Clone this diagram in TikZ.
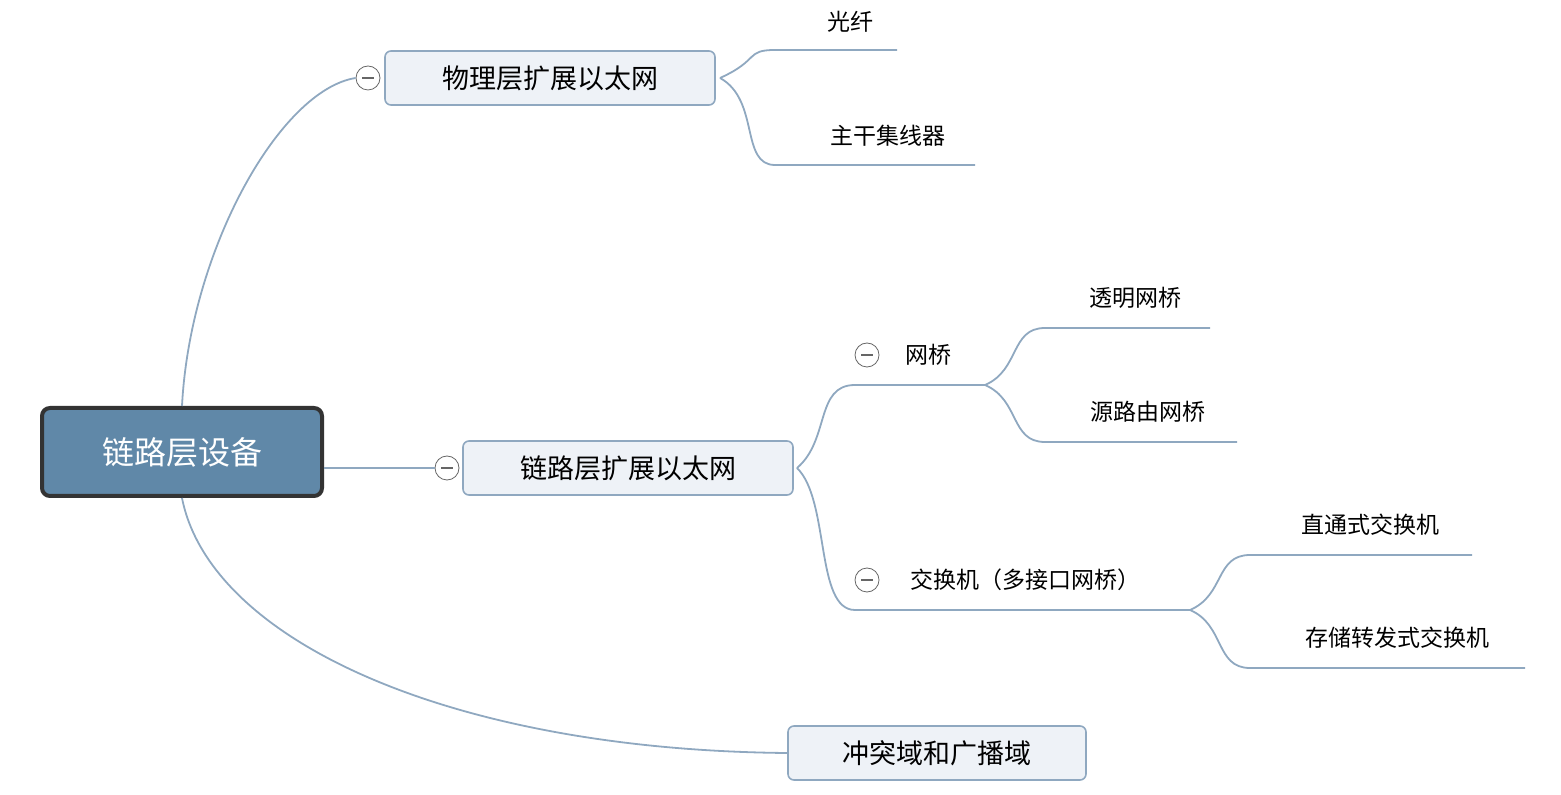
\documentclass[tikz,border=0pt]{standalone}
\usepackage{fontspec}
\setmainfont{Noto Sans CJK SC}
\usetikzlibrary{positioning}
\definecolor{edge}{HTML}{8FA8C0}
\definecolor{topicfill}{HTML}{EEF2F7}
\definecolor{rootfill}{HTML}{6088A8}
\begin{document}
\begin{tikzpicture}[x=0.5pt,y=-0.5pt,
  root/.style={draw=black!80, line width=2pt, fill=rootfill, rounded corners=4pt, text=white, minimum width=140pt, minimum height=44pt, font=\fontsize{16}{18}\selectfont},
  topic/.style={draw=edge, line width=0.8pt, fill=topicfill, rounded corners=3pt, minimum height=27pt, font=\fontsize{13.5}{15}\selectfont},
  leaf/.style={font=\fontsize{11.5}{13}\selectfont},
  fold/.style={draw=black!60, fill=white, circle, minimum size=12pt, inner sep=0pt, path picture={\draw[black!60,line width=0.8pt] ([xshift=-3pt]path picture bounding box.center) -- ([xshift=3pt]path picture bounding box.center);}},
  link/.style={draw=edge, line width=0.9pt}]
\useasboundingbox (0,0) rectangle (1561,795);
% main topics
\node[root] (dev) at (182,452) {链路层设备};
\node[topic, minimum width=165pt] (phys) at (550,78) {物理层扩展以太网};
\node[topic, minimum width=165pt] (dlink) at (628,468) {链路层扩展以太网};
\node[topic, minimum width=149pt] (coll) at (937,753) {冲突域和广播域};
\node[fold] (f1) at (368,78) {};
\node[fold] (f2) at (447,468) {};
\node[fold] (f3) at (867,355) {};
\node[fold] (f4) at (867,580) {};
% sub topics
\node[leaf] (fiber) at (850,22) {光纤};
\node[leaf] (hub) at (888,136) {主干集线器};
\node[leaf] (bridge) at (928,355) {网桥};
\node[leaf] (switch) at (1025,580) {交换机（多接口网桥）};
\node[leaf] (tbridge) at (1135,298) {透明网桥};
\node[leaf] (sbridge) at (1148,412) {源路由网桥};
\node[leaf] (cut) at (1370,525) {直通式交换机};
\node[leaf] (store) at (1397,638) {存储转发式交换机};
\coordinate (pj) at (720,78);
\coordinate (lj) at (797,468);
\coordinate (bj) at (985,385);
\coordinate (sj) at (1190,610);
% connectors
\draw[link] (dev.north) .. controls (190,250) and (280,90) .. (f1.west);
\draw[link] (dev.east |- f2) -- (f2.west);
\draw[link] (dev.south) .. controls (210,640) and (450,750) .. (coll.west);
\draw[link] (pj) .. controls (760,60) and (745,50) .. (775,50) -- (897,50);
\draw[link] (pj) .. controls (760,100) and (740,165) .. (775,165) -- (975,165);
\draw[link] (lj) .. controls (830,440) and (815,385) .. (855,385) -- (bj);
\draw[link] (lj) .. controls (830,500) and (815,610) .. (855,610) -- (sj);
\draw[link] (bj) .. controls (1020,370) and (1010,328) .. (1045,328) -- (1210,328);
\draw[link] (bj) .. controls (1020,400) and (1010,442) .. (1045,442) -- (1237,442);
\draw[link] (sj) .. controls (1225,595) and (1215,555) .. (1250,555) -- (1472,555);
\draw[link] (sj) .. controls (1225,625) and (1215,668) .. (1250,668) -- (1525,668);
\end{tikzpicture}
\end{document}
